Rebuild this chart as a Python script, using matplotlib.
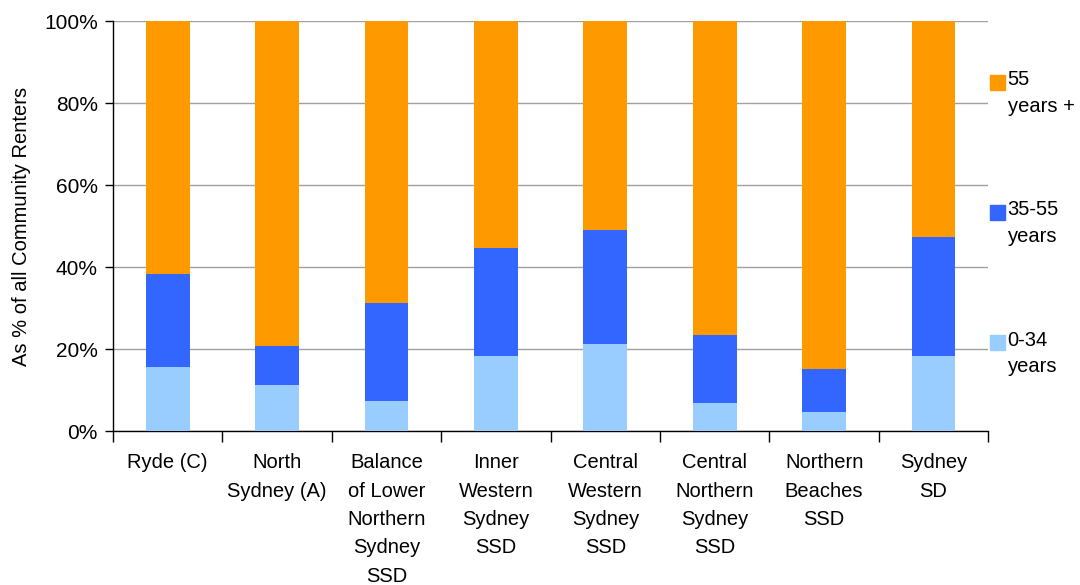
import numpy as np
import matplotlib.pyplot as plt
from matplotlib.patches import Rectangle
from matplotlib.ticker import FuncFormatter

plt.rcParams['font.family'] = ['Liberation Sans', 'DejaVu Sans']

regions = ['Ryde (C)', 'North\nSydney (A)', 'Balance\nof Lower\nNorthern\nSydney\nSSD',
           'Inner\nWestern\nSydney\nSSD', 'Central\nWestern\nSydney\nSSD',
           'Central\nNorthern\nSydney\nSSD', 'Northern\nBeaches\nSSD', 'Sydney\nSD']

# shares of community renters (%)
age_0_34 = [15.6, 11.2, 7.3, 18.3, 21.2, 6.8, 4.6, 18.3]
age_35_55 = [22.7, 9.5, 24.0, 26.3, 27.8, 16.6, 10.5, 29.0]
age_55_plus = [61.7, 79.3, 68.7, 55.4, 51.0, 76.6, 84.9, 52.7]

series_labels = ['0-34\nyears', '35-55\nyears', '55\nyears +']
series_colors = ['#99CCFF', '#3366FF', '#FF9900']

fs = 14.5

fig = plt.figure(figsize=(10.8, 5.85), dpi=100)
ax = fig.add_axes([0.1046, 0.263, 0.8104, 0.701])

x = np.arange(len(regions))
bottom = np.zeros(len(regions))
for vals, col in zip([age_0_34, age_35_55, age_55_plus], series_colors):
    ax.bar(x, vals, width=0.4, bottom=bottom, color=col, zorder=3)
    bottom += np.array(vals)

ax.set_xlim(-0.5, len(regions) - 0.5)
ax.set_ylim(0, 100)
ax.set_yticks(np.arange(0, 101, 20))
ax.yaxis.set_major_formatter(FuncFormatter(lambda y, _: f'{y:.0f}%'))
ax.yaxis.grid(True, color='#A0A0A0', linewidth=1)
ax.set_axisbelow(True)

ax.set_xticks(x)
ax.set_xticklabels(regions, fontsize=fs, linespacing=1.62)
ax.set_xticks(np.arange(-0.5, len(regions)), minor=True)
ax.tick_params(axis='x', which='major', length=0, pad=16)
ax.tick_params(axis='x', which='minor', length=8, width=1, direction='out')
ax.tick_params(axis='y', length=6, width=1, labelsize=15, pad=5)

for s in ['top', 'right']:
    ax.spines[s].set_visible(False)
ax.spines['left'].set_linewidth(1)
ax.spines['bottom'].set_linewidth(1)

ax.set_ylabel('As % of all Community Renters', fontsize=fs, labelpad=9)

# legend drawn on the right side, top to bottom
leg_y = [0.858, 0.636, 0.413]
for lab, col, ly in zip(series_labels[::-1], series_colors[::-1], leg_y):
    fig.add_artist(Rectangle((0.9165, ly - 0.012), 0.0138, 0.0256,
                             transform=fig.transFigure, color=col))
    fig.text(0.933, ly + 0.022, lab, fontsize=fs, va='top', ha='left',
             linespacing=1.5)

fig.savefig('out.png', dpi=100)
